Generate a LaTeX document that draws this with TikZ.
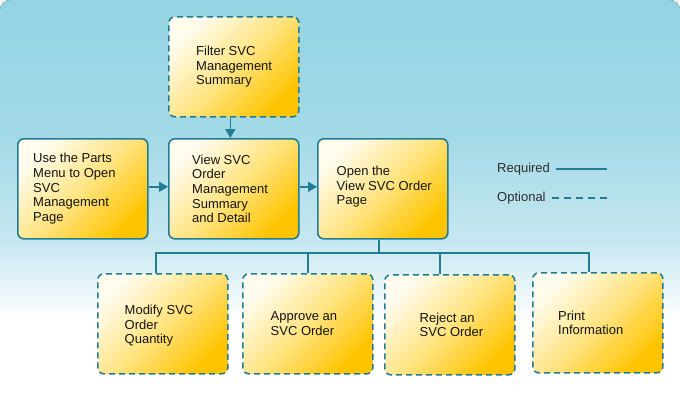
\documentclass[tikz,border=0pt]{standalone}
\usepackage{fontspec}
\setmainfont{Liberation Sans}
\usetikzlibrary{arrows.meta}
\definecolor{teal1}{RGB}{33,124,148}
\definecolor{bgtop}{RGB}{147,212,227}
\definecolor{bgmid}{RGB}{162,217,231}
\definecolor{bglow}{RGB}{198,231,240}
\definecolor{boxlight}{RGB}{255,252,238}
\definecolor{boxmid}{RGB}{255,228,130}
\definecolor{boxdark}{RGB}{255,196,0}
\definecolor{legtext}{RGB}{45,45,45}
\begin{document}
\begin{tikzpicture}[x=1pt,y=-1pt,
 box/.style={draw=teal1, line width=1.6pt, rounded corners=6pt, minimum width=130pt, minimum height=100pt, inner sep=0pt,
   top color=boxlight, bottom color=boxdark, middle color=boxmid, shading angle=45, anchor=north west},
 optbox/.style={box, dash pattern=on 6pt off 4pt},
 txt/.style={anchor=west, inner sep=0pt, align=left, font=\fontsize{13}{14.6}\selectfont, text=black!92},
 leg/.style={anchor=west, inner sep=0pt, font=\fontsize{13}{14.6}\selectfont, text=legtext},
 conn/.style={draw=teal1, line width=1.6pt},
 arr/.style={conn, -{Triangle[length=9pt,width=10pt]}},
]
\useasboundingbox (0,0) rectangle (680,400);
\fill[white] (0,0) rectangle (680,400);
\begin{scope}
\clip[rounded corners=10pt] (0,0) rectangle (680,400);
\fill[top color=bgtop, bottom color=bgmid] (0,0) rectangle (680,130.5);
\fill[top color=bgmid, bottom color=bglow] (0,130) rectangle (680,240.5);
\fill[top color=bglow, bottom color=white] (0,240) rectangle (680,320);
\end{scope}

% boxes
\node[optbox] (filter) at (168,16) {};
\node[box] (use) at (17,138) {};
\node[box] (view) at (168,138) {};
\node[box] (open) at (317,138) {};
\node[optbox] (modify) at (97,273) {};
\node[optbox] (approve) at (242,273) {};
\node[optbox] (reject) at (384,274) {};
\node[optbox] (print) at (532,272) {};

% texts
\node[txt] (filter-t) at ([xshift=28pt]filter.west) {Filter SVC\\Management\\Summary};
\node[txt] (use-t) at ([xshift=16pt]use.west) {Use the Parts\\Menu to Open\\SVC\\Management\\Page};
\node[txt] (view-t) at ([xshift=24pt]view.west) {View SVC\\Order\\Management\\Summary\\and Detail};
\node[txt] (open-t) at ([xshift=19.5pt,yshift=2pt]open.west) {Open the\\View SVC Order\\Page};
\node[txt] (modify-t) at ([xshift=27.5pt,yshift=-2pt]modify.west) {Modify SVC\\Order\\Quantity};
\node[txt] (approve-t) at ([xshift=28.5pt]approve.west) {Approve an\\SVC Order};
\node[txt] (reject-t) at ([xshift=35.5pt]reject.west) {Reject an\\SVC Order};
\node[txt] (print-t) at ([xshift=26pt]print.west) {Print\\Information};

% arrows
\draw[arr] ([xshift=-3.5pt]filter.south) -- ([xshift=-3.5pt]view.north);
\draw[arr] ([yshift=2pt]use.east) -- ([yshift=2pt]view.west);
\draw[arr] ([yshift=2pt]view.east) -- ([yshift=2pt]open.west);

% bus
\coordinate (bus) at (379,253);
\coordinate (dm) at (156,253);
\coordinate (da) at (308,253);
\coordinate (dr) at (440,253);
\coordinate (dp) at (589,253);
\draw[conn] (open.south -| bus) -- (bus);
\draw[conn] (dm |- modify.north) -- (dm) -- (dp) -- (dp |- print.north);
\draw[conn] (da) -- (da |- approve.north);
\draw[conn] (dr) -- (dr |- reject.north);

% legend
\node[leg] (req) at (497,169) {Required};
\coordinate (reqa) at (556,169);
\coordinate (reqb) at (607,169);
\draw[conn] (reqa) -- (reqb);
\node[leg] (opt) at (497,198) {Optional};
\coordinate (opta) at (552,198);
\coordinate (optb) at (607,198);
\draw[conn, dash pattern=on 7pt off 5pt] (opta) -- (optb);
\end{tikzpicture}
\end{document}
